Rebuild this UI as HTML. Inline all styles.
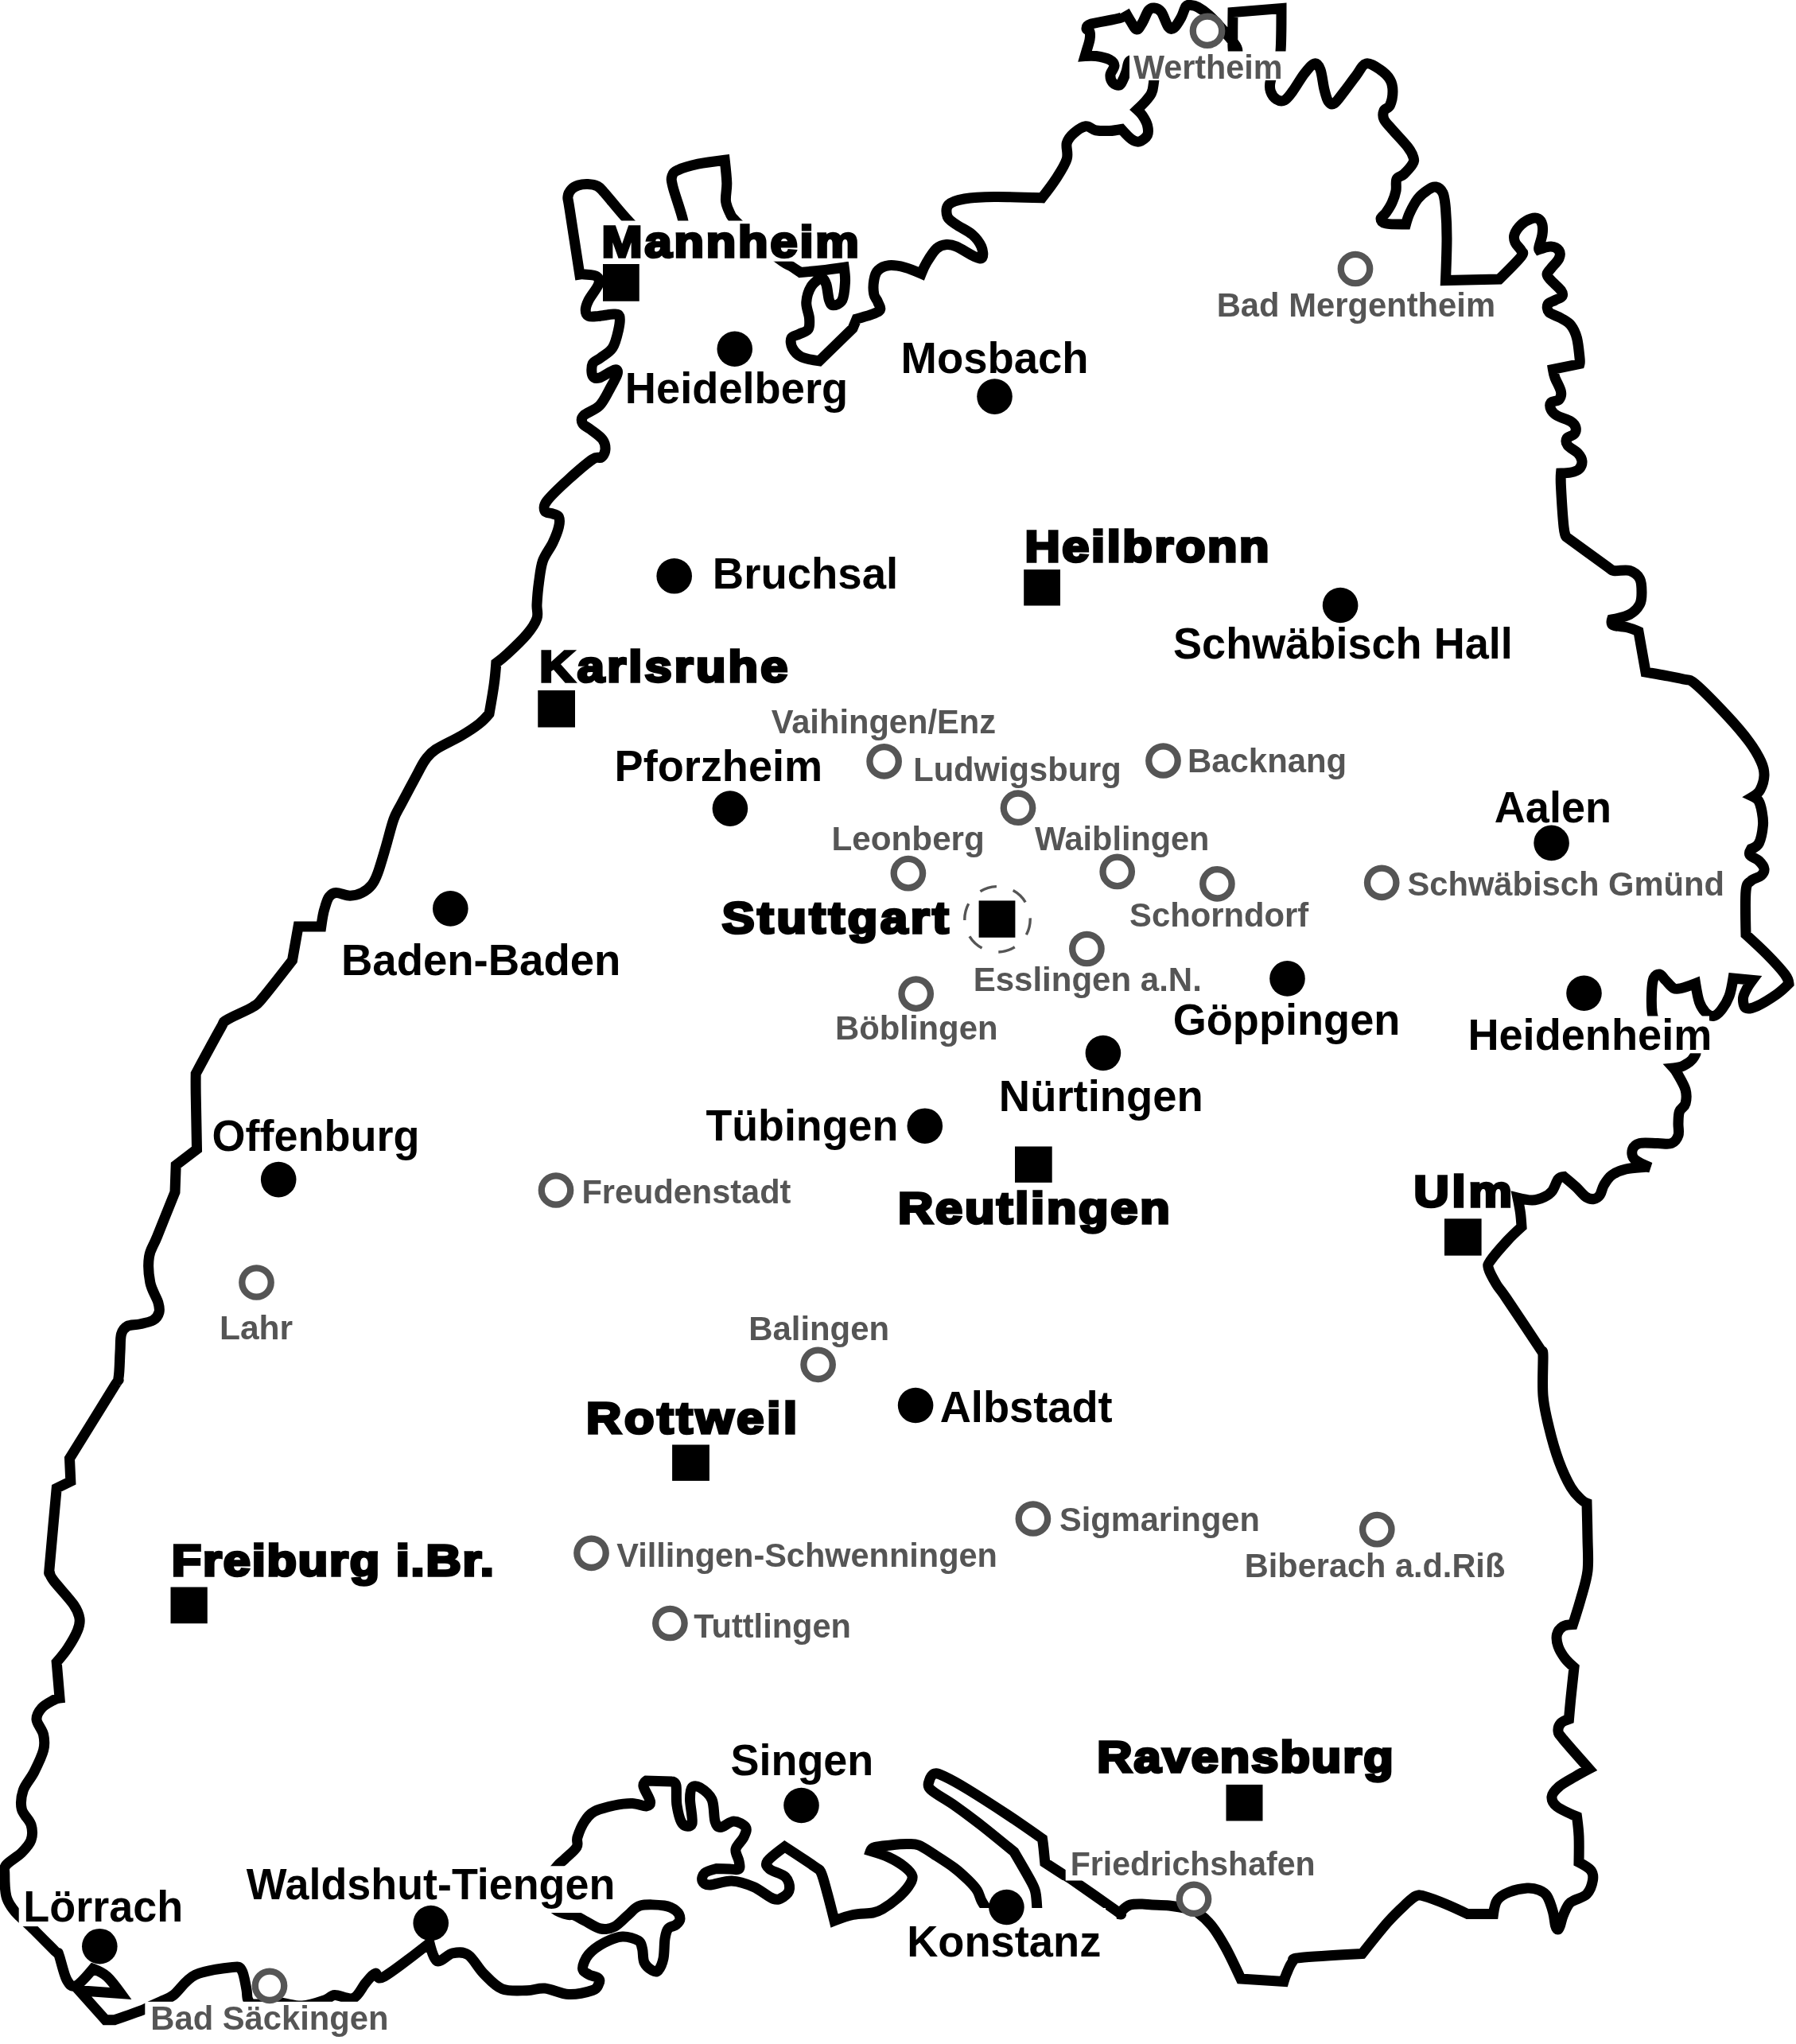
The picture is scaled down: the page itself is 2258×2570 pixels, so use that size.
<!DOCTYPE html>
<html><head><meta charset="utf-8"><title>Baden-Württemberg</title>
<style>
html,body{margin:0;padding:0;background:#fff;}
body{width:2258px;height:2570px;overflow:hidden;}
svg{display:block;will-change:transform;}
text{font-family:"Liberation Sans",sans-serif;font-weight:bold;}
</style></head><body>
<svg width="2258" height="2570" viewBox="0 0 2258 2570">
<rect width="2258" height="2570" fill="#fff"/>
<path d="M1252.0,2407.0 C1252.0,2407.0 1244.0,2402.8 1241.0,2400.0 C1238.0,2397.2 1236.1,2393.8 1234.0,2390.0 C1231.9,2386.2 1231.4,2381.4 1228.6,2377.0 C1225.8,2372.6 1221.8,2368.4 1217.0,2363.7 C1212.2,2359.0 1207.0,2354.0 1200.0,2348.7 C1193.0,2343.4 1182.5,2336.8 1175.0,2332.0 C1167.5,2327.2 1160.8,2322.2 1155.0,2320.0 C1149.2,2317.8 1145.8,2318.6 1140.0,2318.6 C1134.2,2318.6 1126.7,2319.3 1120.0,2320.0 C1113.3,2320.7 1104.3,2321.3 1100.0,2322.5 C1095.7,2323.7 1094.5,2327.2 1094.5,2327.2 C1094.5,2327.2 1109.9,2331.7 1117.0,2335.0 C1124.1,2338.3 1132.0,2343.0 1137.0,2347.0 C1142.0,2351.0 1146.2,2354.8 1147.0,2359.0 C1147.8,2363.2 1145.2,2367.3 1142.0,2372.0 C1138.8,2376.7 1133.3,2382.3 1128.0,2387.0 C1122.7,2391.7 1115.1,2397.0 1110.0,2400.0 C1104.9,2403.0 1103.8,2403.8 1097.5,2405.0 C1091.2,2406.2 1080.6,2405.8 1072.5,2407.5 C1064.4,2409.2 1049.0,2415.0 1049.0,2415.0 C1049.0,2415.0 1042.8,2390.0 1040.0,2380.0 C1037.2,2370.0 1035.0,2360.4 1032.5,2355.0 C1030.0,2349.6 1032.7,2353.0 1025.0,2347.5 C1017.3,2342.0 986.5,2321.9 986.5,2321.9 C986.5,2321.9 968.2,2335.3 965.0,2340.0 C961.8,2344.7 963.8,2346.7 967.5,2350.0 C971.2,2353.3 983.3,2355.8 987.5,2360.0 C991.7,2364.2 992.9,2370.8 992.5,2375.0 C992.1,2379.2 988.3,2382.9 985.0,2385.0 C981.7,2387.1 978.8,2389.6 972.5,2387.5 C966.2,2385.4 956.2,2376.2 947.5,2372.5 C938.8,2368.8 929.2,2365.4 920.0,2365.0 C910.8,2364.6 898.2,2370.0 892.0,2370.0 C885.8,2370.0 884.0,2367.5 883.0,2365.0 C882.0,2362.5 883.1,2357.6 886.0,2355.0 C888.9,2352.4 900.7,2349.5 900.7,2349.5 C900.7,2349.5 912.8,2349.9 917.5,2350.0 C922.2,2350.1 927.1,2351.7 929.0,2350.0 C930.9,2348.3 929.7,2344.2 929.0,2340.0 C928.3,2335.8 924.0,2330.0 925.0,2325.0 C926.0,2320.0 932.9,2314.6 935.0,2310.0 C937.1,2305.4 939.6,2300.8 937.5,2297.5 C935.4,2294.2 927.8,2290.0 922.5,2290.0 C917.2,2290.0 909.9,2297.5 906.0,2297.5 C902.1,2297.5 900.8,2295.8 899.0,2290.0 C897.2,2284.2 898.2,2269.6 895.0,2262.5 C891.8,2255.4 884.2,2250.0 880.0,2247.5 C875.8,2245.0 872.1,2245.0 870.0,2247.5 C867.9,2250.0 867.5,2254.9 867.5,2262.5 C867.5,2270.1 871.6,2287.9 870.0,2293.0 C868.4,2298.1 861.2,2296.8 858.0,2293.0 C854.8,2289.2 852.3,2278.0 851.0,2270.0 C849.7,2262.0 851.0,2250.0 850.0,2245.0 C849.0,2240.0 845.0,2240.0 845.0,2240.0 C845.0,2240.0 812.5,2239.0 812.5,2239.0 C812.5,2239.0 808.2,2241.7 809.0,2246.0 C809.8,2250.3 816.9,2260.8 817.5,2265.0 C818.1,2269.2 816.2,2270.6 812.5,2271.0 C808.8,2271.4 801.7,2267.7 795.0,2267.5 C788.3,2267.3 780.4,2268.3 772.5,2270.0 C764.6,2271.7 753.8,2274.2 747.5,2277.5 C741.2,2280.8 738.6,2284.6 735.0,2290.0 C731.4,2295.4 727.7,2304.6 726.0,2310.0 C724.3,2315.4 727.7,2317.9 725.0,2322.5 C722.3,2327.1 714.2,2333.4 710.0,2337.5 C705.8,2341.6 704.2,2341.6 700.0,2347.0 C695.8,2352.4 685.8,2361.5 685.0,2370.0 C684.2,2378.5 690.5,2391.8 695.0,2398.0 C699.5,2404.2 707.5,2405.3 712.0,2407.0 C716.5,2408.7 718.2,2406.7 722.0,2408.0 C725.8,2409.3 729.5,2412.2 735.0,2415.0 C740.5,2417.8 748.8,2423.8 755.0,2425.0 C761.2,2426.2 766.7,2425.4 772.5,2422.5 C778.3,2419.6 784.6,2411.9 790.0,2407.5 C795.4,2403.1 797.5,2397.9 805.0,2396.0 C812.5,2394.1 827.5,2394.9 835.0,2396.0 C842.5,2397.1 846.7,2399.8 850.0,2402.5 C853.3,2405.2 855.0,2409.6 855.0,2412.5 C855.0,2415.4 852.5,2417.9 850.0,2420.0 C847.5,2422.1 842.3,2422.1 840.0,2425.0 C837.7,2427.9 837.0,2431.2 836.0,2437.5 C835.0,2443.8 835.4,2455.8 834.0,2462.5 C832.6,2469.2 829.8,2475.0 827.5,2477.5 C825.2,2480.0 822.9,2479.2 820.0,2477.5 C817.1,2475.8 812.1,2472.1 810.0,2467.5 C807.9,2462.9 808.8,2454.6 807.5,2450.0 C806.2,2445.4 806.7,2442.5 802.5,2440.0 C798.3,2437.5 789.6,2434.6 782.5,2435.0 C775.4,2435.4 767.1,2438.8 760.0,2442.5 C752.9,2446.2 744.6,2452.1 740.0,2457.5 C735.4,2462.9 732.5,2470.8 732.5,2475.0 C732.5,2479.2 736.7,2480.4 740.0,2482.5 C743.3,2484.6 750.4,2485.4 752.5,2487.5 C754.6,2489.6 753.8,2492.5 752.5,2495.0 C751.2,2497.5 751.2,2500.4 745.0,2502.5 C738.8,2504.6 725.0,2507.9 715.0,2507.5 C705.0,2507.1 693.8,2500.8 685.0,2500.0 C676.2,2499.2 671.5,2502.6 662.5,2502.7 C653.5,2502.8 640.4,2504.3 631.3,2500.7 C622.2,2497.1 615.0,2488.4 607.9,2481.3 C600.8,2474.2 595.0,2462.1 588.5,2457.9 C582.0,2453.7 575.5,2454.6 569.0,2455.9 C562.5,2457.2 554.3,2467.8 549.5,2465.7 C544.7,2463.5 540.0,2443.0 540.0,2443.0 C540.0,2443.0 494.6,2478.7 483.2,2485.1 C471.8,2491.5 475.5,2480.0 471.6,2481.3 C467.7,2482.6 464.4,2487.8 459.9,2493.0 C455.3,2498.2 450.8,2509.8 444.3,2512.4 C437.8,2515.0 426.8,2508.2 420.9,2508.5 C415.0,2508.8 416.0,2512.2 409.2,2514.4 C402.4,2516.7 389.9,2521.4 380.0,2522.0 C370.1,2522.6 360.0,2518.3 350.0,2518.0 C340.0,2517.7 326.4,2520.6 320.0,2520.0 C313.6,2519.4 313.5,2517.6 311.8,2514.4 C310.1,2511.2 311.1,2506.9 309.8,2500.7 C308.5,2494.5 306.9,2481.9 304.0,2477.4 C301.1,2472.9 302.1,2472.5 292.3,2473.5 C282.6,2474.5 257.9,2477.4 245.5,2483.2 C233.2,2489.0 225.3,2503.0 218.2,2508.5 C211.0,2514.0 207.3,2514.1 202.6,2516.3 C197.9,2518.6 193.9,2520.2 190.0,2522.0 C186.1,2523.8 186.9,2524.2 179.3,2527.2 C171.7,2530.1 144.2,2539.7 144.2,2539.7 C144.2,2539.7 132.5,2539.7 132.5,2539.7 C132.5,2539.7 99.4,2502.7 99.4,2502.7 C99.4,2502.7 152.0,2506.6 152.0,2506.6 C152.0,2506.6 140.3,2490.3 134.5,2485.1 C128.7,2479.9 116.9,2475.4 116.9,2475.4 C116.9,2475.4 101.0,2494.5 95.5,2496.8 C90.0,2499.1 87.4,2495.5 83.8,2489.0 C80.2,2482.5 76.3,2463.7 74.0,2457.9 C71.7,2452.1 75.9,2459.8 70.1,2454.0 C64.3,2448.2 46.5,2430.1 39.0,2422.8 C31.5,2415.5 28.9,2413.9 25.0,2410.0 C21.1,2406.1 18.5,2403.8 15.6,2399.4 C12.7,2395.0 9.4,2391.0 7.8,2383.8 C6.2,2376.7 5.8,2363.0 5.8,2356.5 C5.8,2350.0 4.2,2349.4 7.8,2344.9 C11.4,2340.4 22.1,2334.5 27.3,2329.3 C32.5,2324.1 37.0,2319.5 39.0,2313.7 C41.0,2307.8 41.0,2300.7 39.0,2294.2 C37.0,2287.7 28.9,2281.9 27.3,2274.7 C25.7,2267.5 26.6,2258.8 29.2,2251.0 C31.8,2243.2 38.7,2236.4 42.9,2228.0 C47.1,2219.6 52.6,2208.5 54.6,2200.7 C56.6,2192.9 56.0,2187.4 54.6,2181.0 C53.2,2174.6 46.4,2167.6 46.0,2162.0 C45.6,2156.4 48.9,2151.6 52.5,2147.5 C56.1,2143.4 63.8,2139.6 67.5,2137.5 C71.2,2135.4 75.0,2135.0 75.0,2135.0 C75.0,2135.0 71.2,2090.0 71.2,2090.0 C71.2,2090.0 80.6,2079.2 85.0,2072.5 C89.4,2065.8 95.0,2056.2 97.5,2050.0 C100.0,2043.8 100.8,2040.4 100.0,2035.0 C99.2,2029.6 97.9,2025.4 92.5,2017.5 C87.1,2009.6 72.5,1994.2 67.5,1987.5 C62.5,1980.8 63.3,1980.8 62.5,1977.5 C61.7,1974.2 61.0,1985.2 62.5,1967.5 C64.0,1949.8 71.2,1871.2 71.2,1871.2 C71.2,1871.2 88.8,1862.5 88.8,1862.5 C88.8,1862.5 87.5,1833.8 87.5,1833.8 C87.5,1833.8 132.2,1761.9 142.5,1745.0 C152.8,1728.1 147.6,1740.0 149.0,1732.5 C150.4,1725.0 150.4,1709.2 151.0,1700.0 C151.6,1690.8 151.0,1682.9 152.5,1677.5 C154.0,1672.1 156.2,1669.6 160.0,1667.5 C163.8,1665.4 169.6,1666.2 175.0,1665.0 C180.4,1663.8 188.3,1662.5 192.5,1660.0 C196.7,1657.5 199.0,1653.8 200.0,1650.0 C201.0,1646.2 200.6,1643.8 198.8,1637.5 C196.9,1631.2 190.6,1622.1 188.8,1612.5 C186.9,1602.9 186.0,1589.6 187.5,1580.0 C189.0,1570.4 192.1,1568.5 197.5,1555.0 C202.9,1541.5 220.0,1498.8 220.0,1498.8 C220.0,1498.8 221.2,1465.0 221.2,1465.0 C221.2,1465.0 247.5,1445.0 247.5,1445.0 C247.5,1445.0 246.5,1390.8 246.2,1375.0 C246.0,1359.2 246.2,1350.0 246.2,1350.0 C246.2,1350.0 271.0,1303.8 277.5,1292.5 C284.0,1281.2 278.3,1286.9 285.0,1282.5 C291.7,1278.1 310.0,1270.8 317.5,1266.2 C325.0,1261.7 321.7,1264.8 330.0,1255.0 C338.3,1245.2 367.5,1207.5 367.5,1207.5 C367.5,1207.5 375.0,1165.0 375.0,1165.0 C375.0,1165.0 403.8,1165.0 403.8,1165.0 C403.8,1165.0 405.2,1155.2 406.0,1151.0 C406.8,1146.8 407.5,1143.9 408.8,1140.0 C410.0,1136.1 411.5,1130.4 413.8,1127.5 C416.0,1124.6 418.1,1122.7 422.5,1122.5 C426.9,1122.3 434.6,1126.2 440.0,1126.2 C445.4,1126.2 450.4,1124.8 455.0,1122.5 C459.6,1120.2 464.2,1116.7 467.5,1112.5 C470.8,1108.3 472.1,1105.4 475.0,1097.5 C477.9,1089.6 481.7,1076.2 485.0,1065.0 C488.3,1053.8 491.7,1039.2 495.0,1030.0 C498.3,1020.8 500.0,1019.6 505.0,1010.0 C510.0,1000.4 520.0,981.7 525.0,972.5 C530.0,963.3 531.2,960.0 535.0,955.0 C538.8,950.0 540.0,947.5 547.5,942.5 C555.0,937.5 570.8,930.4 580.0,925.0 C589.2,919.6 596.7,914.6 602.5,910.0 C608.3,905.4 615.0,897.5 615.0,897.5 C615.0,897.5 619.8,870.6 621.2,860.0 C622.7,849.4 623.8,833.8 623.8,833.8 C623.8,833.8 631.0,828.5 637.5,822.5 C644.0,816.5 656.2,805.0 662.5,797.5 C668.8,790.0 672.9,783.8 675.0,777.5 C677.1,771.2 674.6,767.5 675.0,760.0 C675.4,752.5 676.2,741.7 677.5,732.5 C678.8,723.3 679.6,713.3 682.5,705.0 C685.4,696.7 691.7,689.6 695.0,682.5 C698.3,675.4 701.2,667.9 702.5,662.5 C703.8,657.1 703.8,652.8 702.5,650.0 C701.2,647.2 697.9,647.2 695.0,646.0 C692.1,644.8 686.2,645.2 685.0,642.5 C683.8,639.8 682.5,636.7 687.5,630.0 C692.5,623.3 705.4,611.2 715.0,602.5 C724.6,593.8 738.2,582.1 745.0,577.5 C751.8,572.9 753.3,577.1 756.0,575.0 C758.7,572.9 760.8,568.8 761.0,565.0 C761.2,561.2 760.6,556.7 757.5,552.5 C754.4,548.3 746.7,543.3 742.5,540.0 C738.3,536.7 734.0,535.4 732.5,532.5 C731.0,529.6 730.2,526.2 733.8,522.5 C737.3,518.8 748.1,515.8 753.8,510.0 C759.4,504.2 763.8,494.2 767.5,487.5 C771.2,480.8 775.4,473.8 776.2,470.0 C777.1,466.2 776.2,464.2 772.5,465.0 C768.8,465.8 758.3,473.8 753.8,475.0 C749.2,476.2 746.5,475.4 745.0,472.5 C743.5,469.6 743.3,461.2 745.0,457.5 C746.7,453.8 750.8,453.3 755.0,450.0 C759.2,446.7 766.2,443.3 770.0,437.5 C773.8,431.7 776.0,421.7 777.5,415.0 C779.0,408.3 779.8,400.8 778.8,397.5 C777.7,394.2 775.6,395.0 771.2,395.0 C766.9,395.0 757.7,397.1 752.5,397.5 C747.3,397.9 742.7,398.8 740.0,397.5 C737.3,396.2 736.2,393.3 736.2,390.0 C736.2,386.7 737.3,382.9 740.0,377.5 C742.7,372.1 750.8,362.5 752.5,357.5 C754.2,352.5 752.9,349.6 750.0,347.5 C747.1,345.4 738.5,345.4 735.0,345.0 C731.5,344.6 728.8,345.0 728.8,345.0 C728.8,345.0 718.5,278.3 716.0,262.0 C713.5,245.7 713.6,251.0 714.0,247.0 C714.4,243.0 716.3,240.3 718.5,238.0 C720.7,235.7 723.6,234.1 727.0,233.0 C730.4,231.9 735.0,231.3 739.0,231.5 C743.0,231.7 747.5,232.2 751.0,234.0 C754.5,235.8 753.5,235.2 760.0,242.5 C766.5,249.8 780.0,267.1 790.0,277.5 C800.0,287.9 808.5,301.2 820.0,305.0 C831.5,308.8 852.3,304.6 858.8,300.0 C865.2,295.4 860.9,288.3 858.8,277.5 C856.6,266.7 848.3,244.4 846.0,235.0 C843.7,225.6 843.9,224.8 845.0,221.2 C846.1,217.7 847.1,216.2 852.5,213.8 C857.9,211.2 867.7,208.3 877.5,206.2 C887.3,204.2 911.2,201.2 911.2,201.2 C911.2,201.2 913.5,221.5 913.8,230.0 C914.0,238.5 911.9,246.2 912.5,252.5 C913.1,258.8 915.4,263.2 917.5,267.5 C919.6,271.8 917.9,270.9 925.0,278.0 C932.1,285.1 950.2,301.5 960.0,310.0 C969.8,318.5 977.9,324.6 983.8,328.8 C989.6,332.9 991.2,332.7 995.0,335.0 C998.8,337.3 1006.2,342.5 1006.2,342.5 C1006.2,342.5 1023.3,341.0 1032.5,340.0 C1041.7,339.0 1061.2,336.2 1061.2,336.2 C1061.2,336.2 1062.9,348.1 1062.5,355.0 C1062.1,361.9 1061.2,372.7 1058.8,377.5 C1056.2,382.3 1050.2,383.8 1047.5,383.8 C1044.8,383.8 1044.0,381.9 1042.5,377.5 C1041.0,373.1 1040.4,362.1 1038.8,357.5 C1037.1,352.9 1035.6,349.6 1032.5,350.0 C1029.4,350.4 1023.1,355.0 1020.0,360.0 C1016.9,365.0 1014.2,373.3 1013.8,380.0 C1013.3,386.7 1017.1,394.4 1017.5,400.0 C1017.9,405.6 1018.3,410.4 1016.2,413.8 C1014.2,417.1 1008.5,418.1 1005.0,420.0 C1001.5,421.9 996.5,422.1 995.0,425.0 C993.5,427.9 994.2,433.5 996.2,437.5 C998.3,441.5 1001.9,446.0 1007.5,448.8 C1013.1,451.5 1030.0,453.8 1030.0,453.8 C1030.0,453.8 1072.0,413.0 1072.0,413.0 C1072.0,413.0 1077.0,401.0 1077.0,401.0 C1077.0,401.0 1100.5,394.8 1105.0,391.2 C1109.5,387.8 1104.8,383.5 1103.8,380.0 C1102.7,376.5 1099.6,374.6 1098.8,370.0 C1097.9,365.4 1097.9,357.5 1098.8,352.5 C1099.6,347.5 1100.6,343.1 1103.8,340.0 C1106.9,336.9 1111.9,334.4 1117.5,333.8 C1123.1,333.1 1130.7,334.5 1137.5,336.2 C1144.3,338.0 1158.3,344.1 1158.3,344.1 C1158.3,344.1 1161.8,335.3 1165.0,330.0 C1168.2,324.7 1173.3,316.2 1177.5,312.5 C1181.7,308.8 1185.8,307.9 1190.0,307.5 C1194.2,307.1 1196.7,307.5 1202.5,310.0 C1208.3,312.5 1219.6,320.2 1225.0,322.5 C1230.4,324.8 1233.5,325.8 1235.0,323.8 C1236.5,321.7 1235.8,314.8 1233.8,310.0 C1231.7,305.2 1227.7,299.6 1222.5,295.0 C1217.3,290.4 1207.7,286.2 1202.5,282.5 C1197.3,278.8 1192.9,276.7 1191.2,272.5 C1189.6,268.3 1189.0,261.2 1192.5,257.5 C1196.0,253.8 1202.9,251.7 1212.5,250.0 C1222.1,248.3 1233.8,247.7 1250.0,247.5 C1266.2,247.3 1310.0,248.8 1310.0,248.8 C1310.0,248.8 1322.3,233.1 1327.5,225.0 C1332.7,216.9 1339.0,207.5 1341.2,200.0 C1343.5,192.5 1339.8,185.4 1341.2,180.0 C1342.7,174.6 1346.0,171.0 1350.0,167.5 C1354.0,164.0 1360.4,159.4 1365.0,158.8 C1369.6,158.1 1372.5,162.8 1377.5,163.8 C1382.5,164.7 1389.6,164.7 1395.0,164.5 C1400.4,164.3 1410.0,162.5 1410.0,162.5 C1410.0,162.5 1418.8,172.4 1422.5,175.0 C1426.2,177.6 1429.2,178.8 1432.5,178.0 C1435.8,177.2 1440.8,173.4 1442.5,170.0 C1444.2,166.6 1443.5,161.7 1442.5,157.5 C1441.5,153.3 1438.4,148.3 1436.2,145.0 C1434.1,141.7 1429.7,137.8 1429.7,137.8 C1429.7,137.8 1437.0,130.9 1440.0,127.5 C1443.0,124.1 1445.8,120.8 1447.5,117.5 C1449.2,114.2 1449.6,111.8 1450.0,107.5 C1450.4,103.2 1452.2,96.6 1450.0,92.0 C1447.8,87.4 1441.8,82.7 1437.0,80.0 C1432.2,77.3 1424.5,74.3 1421.0,76.0 C1417.5,77.7 1417.5,86.0 1416.0,90.0 C1414.5,94.0 1413.4,97.2 1412.0,100.0 C1410.6,102.8 1409.7,106.3 1407.5,107.0 C1405.3,107.7 1400.9,106.2 1399.0,104.0 C1397.1,101.8 1395.7,97.6 1396.0,94.0 C1396.3,90.4 1401.2,85.7 1401.0,82.5 C1400.8,79.3 1398.8,77.0 1395.0,75.0 C1391.2,73.0 1383.1,71.2 1378.0,70.5 C1372.9,69.8 1364.1,70.5 1364.1,70.5 C1364.1,70.5 1365.0,67.4 1366.0,64.0 C1367.0,60.6 1369.3,54.0 1370.0,50.0 C1370.7,46.0 1370.7,42.3 1370.0,40.0 C1369.3,37.7 1365.7,37.7 1366.0,36.0 C1366.3,34.3 1364.7,32.3 1372.0,30.0 C1379.3,27.7 1403.0,24.7 1410.0,22.0 C1417.0,19.3 1414.0,14.0 1414.0,14.0 C1414.0,14.0 1418.5,22.2 1421.0,26.0 C1423.5,29.8 1426.5,36.5 1429.0,37.0 C1431.5,37.5 1433.5,33.0 1436.0,29.0 C1438.5,25.0 1441.5,16.2 1444.0,13.0 C1446.5,9.8 1448.3,9.7 1451.0,10.0 C1453.7,10.3 1457.0,11.0 1460.0,15.0 C1463.0,19.0 1466.3,30.7 1469.0,34.0 C1471.7,37.3 1473.3,37.0 1476.0,35.0 C1478.7,33.0 1482.5,26.5 1485.0,22.0 C1487.5,17.5 1489.0,10.6 1491.0,8.0 C1493.0,5.4 1494.5,6.3 1497.0,6.5 C1499.5,6.7 1502.2,6.9 1506.0,9.0 C1509.8,11.1 1514.8,14.3 1520.0,19.0 C1525.2,23.7 1531.2,30.2 1537.0,37.0 C1542.8,43.8 1552.3,53.7 1555.0,60.0 C1557.7,66.3 1553.8,75.0 1553.0,75.0 C1552.2,75.0 1550.5,69.9 1550.0,60.0 C1549.5,50.1 1550.0,15.5 1550.0,15.5 C1550.0,15.5 1611.0,10.5 1611.0,10.5 C1611.0,10.5 1611.0,52.1 1610.0,64.5 C1609.0,76.9 1607.1,78.9 1605.0,85.0 C1602.9,91.1 1598.8,96.0 1597.5,101.0 C1596.2,106.0 1596.2,111.0 1597.5,115.0 C1598.8,119.0 1602.1,123.2 1605.0,125.0 C1607.9,126.8 1611.7,127.7 1615.0,126.0 C1618.3,124.3 1620.8,120.6 1625.0,115.0 C1629.2,109.4 1635.4,98.3 1640.0,92.5 C1644.6,86.7 1649.2,80.8 1652.5,80.0 C1655.8,79.2 1657.9,82.1 1660.0,87.5 C1662.1,92.9 1663.3,105.8 1665.0,112.5 C1666.7,119.2 1667.9,124.6 1670.0,127.5 C1672.1,130.4 1674.2,132.1 1677.5,130.0 C1680.8,127.9 1685.4,120.8 1690.0,115.0 C1694.6,109.2 1700.4,100.8 1705.0,95.0 C1709.6,89.2 1712.5,81.2 1717.5,80.0 C1722.5,78.8 1730.0,84.2 1735.0,87.5 C1740.0,90.8 1744.8,95.4 1747.5,100.0 C1750.2,104.6 1751.0,109.6 1751.0,115.0 C1751.0,120.4 1749.3,128.5 1747.5,132.5 C1745.7,136.5 1741.2,136.1 1740.0,139.0 C1738.8,141.9 1738.3,146.1 1740.0,150.0 C1741.7,153.9 1745.0,156.7 1750.0,162.5 C1755.0,168.3 1765.5,179.1 1770.0,185.0 C1774.5,190.9 1776.0,194.5 1777.0,198.0 C1778.0,201.5 1778.0,202.5 1776.0,206.0 C1774.0,209.5 1768.3,215.8 1765.0,219.0 C1761.7,222.2 1757.7,221.5 1756.0,225.0 C1754.3,228.5 1756.0,235.0 1755.0,240.0 C1754.0,245.0 1752.1,250.4 1750.0,255.0 C1747.9,259.6 1744.8,264.2 1742.5,267.5 C1740.2,270.8 1736.0,272.8 1736.0,275.0 C1736.0,277.2 1737.2,279.8 1742.5,281.0 C1747.8,282.2 1767.5,282.0 1767.5,282.0 C1767.5,282.0 1770.0,272.8 1772.5,267.5 C1775.0,262.2 1778.8,254.8 1782.5,250.0 C1786.2,245.2 1791.2,241.5 1795.0,239.0 C1798.8,236.5 1801.8,234.4 1805.0,235.0 C1808.2,235.6 1811.9,237.9 1814.0,242.5 C1816.1,247.1 1816.7,252.9 1817.5,262.5 C1818.3,272.1 1819.0,285.0 1819.0,300.0 C1819.0,315.0 1817.5,352.5 1817.5,352.5 C1817.5,352.5 1885.0,351.0 1885.0,351.0 C1885.0,351.0 1907.9,328.5 1912.5,322.5 C1917.1,316.5 1913.8,317.9 1912.5,315.0 C1911.2,312.1 1906.4,308.3 1905.0,305.0 C1903.6,301.7 1902.8,298.8 1904.0,295.0 C1905.2,291.2 1909.0,285.8 1912.5,282.5 C1916.0,279.2 1921.4,276.2 1925.0,275.0 C1928.6,273.8 1931.7,273.8 1934.0,275.0 C1936.3,276.2 1938.2,279.2 1939.0,282.5 C1939.8,285.8 1939.7,290.4 1939.0,295.0 C1938.3,299.6 1935.7,306.9 1935.0,310.0 C1934.3,313.1 1934.7,313.7 1934.7,313.7 C1934.7,313.7 1945.8,309.8 1950.0,310.0 C1954.2,310.2 1958.3,312.5 1960.0,315.0 C1961.7,317.5 1961.7,321.2 1960.0,325.0 C1958.3,328.8 1952.5,334.2 1950.0,337.5 C1947.5,340.8 1945.0,342.5 1945.0,345.0 C1945.0,347.5 1947.1,349.2 1950.0,352.5 C1952.9,355.8 1960.2,361.7 1962.5,365.0 C1964.8,368.3 1965.2,370.4 1964.0,372.5 C1962.8,374.6 1958.0,375.8 1955.0,377.5 C1952.0,379.2 1947.2,380.0 1946.0,382.5 C1944.8,385.0 1944.8,389.6 1947.5,392.5 C1950.2,395.4 1957.9,397.2 1962.5,400.0 C1967.1,402.8 1971.7,404.8 1975.0,409.0 C1978.3,413.2 1980.7,418.2 1982.5,425.0 C1984.3,431.8 1985.4,444.6 1986.0,450.0 C1986.6,455.4 1986.0,457.5 1986.0,457.5 C1986.0,457.5 1952.4,464.3 1952.4,464.3 C1952.4,464.3 1953.3,470.3 1955.0,475.0 C1956.7,479.7 1961.7,487.9 1962.5,492.5 C1963.3,497.1 1962.1,500.2 1960.0,502.5 C1957.9,504.8 1951.7,503.9 1950.0,506.0 C1948.3,508.1 1948.8,512.2 1950.0,515.0 C1951.2,517.8 1953.3,520.0 1957.5,522.5 C1961.7,525.0 1971.1,527.5 1975.0,530.0 C1978.9,532.5 1980.3,534.8 1981.0,537.5 C1981.7,540.2 1980.8,543.8 1979.0,546.0 C1977.2,548.2 1971.3,548.7 1970.0,551.0 C1968.7,553.3 1968.7,556.8 1971.0,560.0 C1973.3,563.2 1981.0,566.7 1984.0,570.0 C1987.0,573.3 1988.8,576.7 1989.0,580.0 C1989.2,583.3 1987.3,587.7 1985.0,590.0 C1982.7,592.3 1978.8,593.2 1975.0,594.0 C1971.2,594.8 1962.5,595.0 1962.5,595.0 C1962.5,595.0 1961.9,601.2 1962.5,612.5 C1963.1,623.8 1964.9,652.1 1966.0,662.5 C1967.1,672.9 1969.0,675.0 1969.0,675.0 C1969.0,675.0 2010.0,704.9 2020.0,712.0 C2030.0,719.1 2024.2,716.6 2029.0,717.5 C2033.8,718.4 2043.6,715.8 2049.0,717.5 C2054.4,719.2 2059.0,722.9 2061.5,727.5 C2064.0,732.1 2064.0,739.6 2064.0,745.0 C2064.0,750.4 2064.0,755.4 2061.5,760.0 C2059.0,764.6 2054.8,769.3 2049.0,772.5 C2043.2,775.7 2026.5,779.0 2026.5,779.0 C2026.5,779.0 2024.7,784.3 2028.0,786.0 C2031.3,787.7 2041.2,787.7 2046.5,789.0 C2051.8,790.3 2060.0,794.0 2060.0,794.0 C2060.0,794.0 2069.0,845.0 2069.0,845.0 C2069.0,845.0 2083.6,847.5 2091.5,849.0 C2099.4,850.5 2109.8,852.2 2116.5,854.0 C2123.2,855.8 2122.3,852.3 2131.5,860.0 C2140.7,867.7 2160.2,887.9 2171.5,900.0 C2182.8,912.1 2191.9,922.9 2199.0,932.5 C2206.1,942.1 2210.8,950.4 2214.0,957.5 C2217.2,964.6 2218.2,969.1 2218.0,975.0 C2217.8,980.9 2215.3,988.6 2213.0,993.0 C2210.7,997.4 2204.0,1001.5 2204.0,1001.5 C2204.0,1001.5 2209.2,1003.9 2211.0,1007.0 C2212.8,1010.1 2214.1,1014.9 2215.0,1020.0 C2215.9,1025.1 2217.1,1030.8 2216.5,1037.5 C2215.9,1044.2 2214.0,1055.0 2211.5,1060.0 C2209.0,1065.0 2201.5,1067.5 2201.5,1067.5 C2201.5,1067.5 2198.3,1072.5 2200.0,1075.0 C2201.7,1077.5 2208.5,1079.6 2211.5,1082.5 C2214.5,1085.4 2217.6,1089.4 2218.0,1092.5 C2218.4,1095.6 2216.8,1098.5 2214.0,1101.0 C2211.2,1103.5 2204.7,1104.3 2201.5,1107.5 C2198.3,1110.7 2196.1,1108.8 2195.0,1120.0 C2193.9,1131.2 2195.0,1175.0 2195.0,1175.0 C2195.0,1175.0 2213.3,1191.7 2221.5,1200.0 C2229.7,1208.3 2239.4,1218.9 2244.0,1225.0 C2248.6,1231.1 2249.0,1236.8 2249.0,1236.8 C2249.0,1236.8 2240.7,1245.3 2234.0,1250.0 C2227.3,1254.7 2215.5,1262.1 2209.0,1265.0 C2202.5,1267.9 2197.9,1269.2 2195.0,1267.5 C2192.1,1265.8 2191.2,1259.2 2191.5,1255.0 C2191.8,1250.8 2194.5,1246.3 2196.5,1242.5 C2198.5,1238.7 2203.2,1232.4 2203.2,1232.4 C2203.2,1232.4 2179.0,1230.0 2179.0,1230.0 C2179.0,1230.0 2176.5,1245.8 2174.0,1252.5 C2171.5,1259.2 2167.3,1265.8 2164.0,1270.0 C2160.7,1274.2 2157.3,1277.1 2154.0,1277.5 C2150.7,1277.9 2146.9,1275.4 2144.0,1272.5 C2141.1,1269.6 2138.6,1266.0 2136.5,1260.0 C2134.4,1254.0 2131.6,1236.5 2131.6,1236.5 C2131.6,1236.5 2118.6,1241.5 2114.0,1242.5 C2109.4,1243.5 2107.3,1244.2 2104.0,1242.5 C2100.7,1240.8 2096.9,1235.4 2094.0,1232.5 C2091.1,1229.6 2089.0,1225.4 2086.5,1225.0 C2084.0,1224.6 2080.7,1225.8 2079.0,1230.0 C2077.3,1234.2 2076.7,1242.0 2076.5,1250.0 C2076.3,1258.0 2075.8,1269.7 2078.0,1278.0 C2080.2,1286.3 2081.5,1293.3 2090.0,1300.0 C2098.5,1306.7 2122.5,1313.0 2129.0,1318.0 C2135.5,1323.0 2131.1,1326.3 2129.0,1330.0 C2126.9,1333.7 2120.6,1337.8 2116.5,1340.0 C2112.4,1342.2 2104.2,1343.0 2104.2,1343.0 C2104.2,1343.0 2106.5,1345.5 2109.0,1350.0 C2111.5,1354.5 2117.3,1363.8 2119.0,1370.0 C2120.7,1376.2 2120.2,1382.9 2119.0,1387.5 C2117.8,1392.1 2113.0,1393.3 2111.5,1397.5 C2110.0,1401.7 2110.2,1407.5 2110.0,1412.5 C2109.8,1417.5 2111.4,1423.3 2110.0,1427.5 C2108.6,1431.7 2105.8,1435.8 2101.5,1437.5 C2097.2,1439.2 2090.7,1437.5 2084.0,1437.5 C2077.3,1437.5 2066.8,1436.2 2061.5,1437.5 C2056.2,1438.8 2053.6,1441.7 2052.5,1445.0 C2051.4,1448.3 2051.3,1453.7 2055.0,1457.5 C2058.7,1461.3 2074.9,1467.9 2074.9,1467.9 C2074.9,1467.9 2071.6,1467.1 2066.5,1467.5 C2061.4,1467.9 2050.7,1468.3 2044.0,1470.0 C2037.3,1471.7 2031.1,1474.2 2026.5,1477.5 C2021.9,1480.8 2019.0,1485.8 2016.5,1490.0 C2014.0,1494.2 2013.6,1499.6 2011.5,1502.5 C2009.4,1505.4 2006.9,1507.1 2004.0,1507.5 C2001.1,1507.9 1997.8,1507.5 1994.0,1505.0 C1990.2,1502.5 1986.1,1496.8 1981.5,1492.5 C1976.9,1488.2 1966.2,1479.4 1966.2,1479.4 C1966.2,1479.4 1961.4,1479.5 1959.0,1482.5 C1956.6,1485.5 1954.4,1493.8 1951.5,1497.5 C1948.6,1501.2 1945.7,1503.1 1941.5,1505.0 C1937.3,1506.9 1932.1,1508.8 1926.5,1509.0 C1920.9,1509.2 1908.0,1506.0 1908.0,1506.0 C1908.0,1506.0 1910.7,1518.9 1911.5,1525.0 C1912.3,1531.1 1913.0,1542.5 1913.0,1542.5 C1913.0,1542.5 1901.5,1552.9 1895.0,1560.0 C1888.5,1567.1 1877.9,1579.2 1874.0,1585.0 C1870.1,1590.8 1870.2,1590.0 1871.5,1595.0 C1872.8,1600.0 1877.8,1608.8 1881.5,1615.0 C1885.2,1621.2 1884.4,1618.3 1894.0,1632.5 C1903.6,1646.7 1939.0,1700.0 1939.0,1700.0 C1939.0,1700.0 1939.8,1695.8 1940.0,1705.0 C1940.2,1714.2 1938.8,1740.0 1940.0,1755.0 C1941.2,1770.0 1944.2,1781.2 1947.5,1795.0 C1950.8,1808.8 1955.4,1825.0 1960.0,1837.5 C1964.6,1850.0 1970.4,1862.1 1975.0,1870.0 C1979.6,1877.9 1984.2,1881.7 1987.5,1885.0 C1990.8,1888.3 1995.0,1890.0 1995.0,1890.0 C1995.0,1890.0 1995.8,1920.8 1996.0,1935.0 C1996.2,1949.2 1997.4,1962.5 1996.0,1975.0 C1994.6,1987.5 1990.6,1998.8 1987.5,2010.0 C1984.4,2021.2 1977.5,2042.5 1977.5,2042.5 C1977.5,2042.5 1968.3,2042.9 1965.0,2045.0 C1961.7,2047.1 1958.5,2050.8 1957.5,2055.0 C1956.5,2059.2 1957.3,2065.0 1959.0,2070.0 C1960.7,2075.0 1964.2,2080.6 1967.5,2085.0 C1970.8,2089.4 1979.0,2096.5 1979.0,2096.5 C1979.0,2096.5 1976.1,2123.2 1975.0,2134.0 C1973.9,2144.8 1972.5,2161.5 1972.5,2161.5 C1972.5,2161.5 1964.8,2164.0 1962.5,2166.5 C1960.2,2169.0 1958.6,2173.2 1959.0,2176.5 C1959.4,2179.8 1958.5,2178.6 1965.0,2186.5 C1971.5,2194.4 1997.9,2224.1 1997.9,2224.1 C1997.9,2224.1 1986.3,2230.3 1980.0,2234.0 C1973.7,2237.7 1964.8,2242.3 1960.0,2246.5 C1955.2,2250.7 1951.4,2254.8 1951.0,2259.0 C1950.6,2263.2 1952.2,2267.3 1957.5,2271.5 C1962.8,2275.7 1982.5,2284.0 1982.5,2284.0 C1982.5,2284.0 1984.6,2299.4 1985.0,2309.0 C1985.4,2318.6 1985.0,2341.5 1985.0,2341.5 C1985.0,2341.5 1997.1,2347.8 2000.0,2351.5 C2002.9,2355.2 2003.3,2359.0 2002.5,2364.0 C2001.7,2369.0 1998.8,2377.3 1995.0,2381.5 C1991.2,2385.7 1983.8,2386.9 1980.0,2389.0 C1976.2,2391.1 1975.0,2390.7 1972.5,2394.0 C1970.0,2397.3 1966.8,2404.5 1965.0,2409.0 C1963.2,2413.5 1962.6,2418.2 1961.5,2421.0 C1960.4,2423.8 1959.5,2426.0 1958.5,2426.0 C1957.5,2426.0 1956.5,2424.7 1955.5,2421.0 C1954.5,2417.3 1954.2,2410.2 1952.5,2404.0 C1950.8,2397.8 1947.9,2388.6 1945.0,2384.0 C1942.1,2379.4 1939.2,2378.2 1935.0,2376.5 C1930.8,2374.8 1926.2,2373.6 1920.0,2374.0 C1913.8,2374.4 1903.8,2376.5 1897.5,2379.0 C1891.2,2381.5 1885.8,2384.4 1882.5,2389.0 C1879.2,2393.6 1877.5,2406.5 1877.5,2406.5 C1877.5,2406.5 1845.0,2406.5 1845.0,2406.5 C1845.0,2406.5 1826.7,2397.8 1817.5,2394.0 C1808.3,2390.2 1796.2,2385.7 1790.0,2384.0 C1783.8,2382.3 1783.8,2382.3 1780.0,2384.0 C1776.2,2385.7 1773.3,2388.6 1767.5,2394.0 C1761.7,2399.4 1754.2,2406.1 1745.0,2416.5 C1735.8,2426.9 1712.5,2456.5 1712.5,2456.5 C1712.5,2456.5 1649.6,2459.8 1635.0,2461.5 C1620.4,2463.2 1627.9,2463.2 1625.0,2466.5 C1622.1,2469.8 1619.3,2477.3 1617.5,2481.5 C1615.7,2485.7 1614.0,2491.5 1614.0,2491.5 C1614.0,2491.5 1560.0,2488.0 1560.0,2488.0 C1560.0,2488.0 1547.1,2460.1 1541.0,2449.0 C1534.9,2437.9 1529.3,2428.8 1523.5,2421.5 C1517.7,2414.2 1511.0,2408.6 1506.0,2405.0 C1501.0,2401.4 1499.5,2401.5 1493.5,2400.0 C1487.5,2398.5 1477.5,2396.8 1470.0,2396.0 C1462.5,2395.2 1454.2,2395.3 1448.5,2395.0 C1442.8,2394.7 1440.6,2394.0 1436.0,2394.0 C1431.4,2394.0 1425.2,2393.7 1421.0,2395.0 C1416.8,2396.3 1412.9,2400.0 1411.0,2402.0 C1409.1,2404.0 1409.6,2407.1 1409.6,2407.1 C1409.6,2407.1 1410.2,2407.2 1400.0,2400.0 C1389.8,2392.8 1359.0,2371.2 1348.5,2364.0 C1338.0,2356.8 1337.0,2357.0 1337.0,2357.0 C1337.0,2357.0 1313.8,2342.0 1313.8,2342.0 C1313.8,2342.0 1312.5,2328.6 1312.0,2323.6 C1311.5,2318.6 1310.5,2312.0 1310.5,2312.0 C1310.5,2312.0 1282.6,2292.3 1267.0,2282.0 C1251.4,2271.7 1230.3,2258.1 1217.0,2250.0 C1203.7,2241.9 1194.0,2236.7 1187.0,2233.4 C1180.0,2230.1 1178.1,2229.2 1175.0,2230.0 C1171.9,2230.8 1169.3,2235.1 1168.5,2238.4 C1167.7,2241.7 1164.8,2244.7 1170.0,2250.0 C1175.2,2255.3 1189.4,2262.5 1200.0,2270.0 C1210.6,2277.5 1221.1,2285.2 1233.6,2295.0 C1246.1,2304.8 1275.0,2328.6 1275.0,2328.6 C1275.0,2328.6 1292.5,2358.4 1297.0,2367.0 C1301.5,2375.6 1300.9,2374.7 1302.0,2380.0 C1303.1,2385.3 1303.5,2394.0 1303.8,2399.0 C1304.1,2404.0 1304.0,2410.0 1304.0,2410.0" fill="none" stroke="#000" stroke-width="13" stroke-linejoin="miter" stroke-miterlimit="10" stroke-linecap="butt"/>
<rect x="753" y="277.5" width="330.0" height="51.2" fill="#fff"/>
<rect x="1420" y="64.5" width="197.0" height="36.5" fill="#fff"/>
<rect x="1844" y="1277.5" width="305.0" height="46.8" fill="#fff"/>
<rect x="23.7" y="2370" width="212.3" height="52.1" fill="#fff"/>
<rect x="182.3" y="2516.8" width="309.7" height="45.2" fill="#fff"/>
<rect x="303" y="2346.25" width="473.0" height="58.8" fill="#fff"/>
<rect x="1339.7" y="2325" width="316.3" height="39.5" fill="#fff"/>
<rect x="1138" y="2399" width="252.0" height="67.0" fill="#fff"/>
<rect x="758" y="332" width="45.75" height="46.75" fill="#000"/>
<rect x="676.25" y="868" width="46.75" height="46.50" fill="#000"/>
<rect x="1287.2" y="716.1" width="45.80" height="45.40" fill="#000"/>
<rect x="1230.6" y="1132.4" width="45.80" height="46.40" fill="#000"/>
<rect x="1276" y="1441.5" width="46.70" height="45.40" fill="#000"/>
<rect x="1816" y="1532.3" width="46.60" height="46.40" fill="#000"/>
<rect x="845.1" y="1816.5" width="46.80" height="45.40" fill="#000"/>
<rect x="214.5" y="1995.5" width="46.25" height="45.75" fill="#000"/>
<rect x="1541.5" y="2243.9" width="46.00" height="45.60" fill="#000"/>
<circle cx="923.75" cy="438.75" r="22.3" fill="#000"/>
<circle cx="1250.5" cy="498.6" r="22.3" fill="#000"/>
<circle cx="847.7" cy="724.3" r="22.3" fill="#000"/>
<circle cx="1685.1" cy="761" r="22.3" fill="#000"/>
<circle cx="917.9" cy="1016.6" r="22.3" fill="#000"/>
<circle cx="1950.6" cy="1059.9" r="22.3" fill="#000"/>
<circle cx="566.3" cy="1142.4" r="22.3" fill="#000"/>
<circle cx="1618.5" cy="1230.4" r="22.3" fill="#000"/>
<circle cx="1991.5" cy="1248.75" r="22.3" fill="#000"/>
<circle cx="1386.9" cy="1324" r="22.3" fill="#000"/>
<circle cx="1162.8" cy="1415.7" r="22.3" fill="#000"/>
<circle cx="350.2" cy="1483.1" r="22.3" fill="#000"/>
<circle cx="1151.1" cy="1767" r="22.3" fill="#000"/>
<circle cx="1007.5" cy="2270" r="22.3" fill="#000"/>
<circle cx="541.7" cy="2418" r="22.3" fill="#000"/>
<circle cx="1265.4" cy="2398" r="22.3" fill="#000"/>
<circle cx="125.3" cy="2447.2" r="22.3" fill="#000"/>
<circle cx="1518" cy="38.75" r="18.2" fill="#fff" stroke="#555" stroke-width="8.3"/>
<circle cx="1704" cy="338" r="18.2" fill="#fff" stroke="#555" stroke-width="8.3"/>
<circle cx="1111.6" cy="957.3" r="18.2" fill="#fff" stroke="#555" stroke-width="8.3"/>
<circle cx="1280" cy="1015.7" r="18.2" fill="#fff" stroke="#555" stroke-width="8.3"/>
<circle cx="1462.5" cy="956.5" r="18.2" fill="#fff" stroke="#555" stroke-width="8.3"/>
<circle cx="1141.9" cy="1098.1" r="18.2" fill="#fff" stroke="#555" stroke-width="8.3"/>
<circle cx="1404.7" cy="1095.9" r="18.2" fill="#fff" stroke="#555" stroke-width="8.3"/>
<circle cx="1530.4" cy="1111.3" r="18.2" fill="#fff" stroke="#555" stroke-width="8.3"/>
<circle cx="1737.2" cy="1109.8" r="18.2" fill="#fff" stroke="#555" stroke-width="8.3"/>
<circle cx="1366.4" cy="1193" r="18.2" fill="#fff" stroke="#555" stroke-width="8.3"/>
<circle cx="1151.7" cy="1249.6" r="18.2" fill="#fff" stroke="#555" stroke-width="8.3"/>
<circle cx="699" cy="1496.5" r="18.2" fill="#fff" stroke="#555" stroke-width="8.3"/>
<circle cx="322.5" cy="1612.5" r="18.2" fill="#fff" stroke="#555" stroke-width="8.3"/>
<circle cx="1028.6" cy="1715.8" r="18.2" fill="#fff" stroke="#555" stroke-width="8.3"/>
<circle cx="1298.9" cy="1909.5" r="18.2" fill="#fff" stroke="#555" stroke-width="8.3"/>
<circle cx="1731.3" cy="1923.1" r="18.2" fill="#fff" stroke="#555" stroke-width="8.3"/>
<circle cx="743.5" cy="1952.8" r="18.2" fill="#fff" stroke="#555" stroke-width="8.3"/>
<circle cx="842.4" cy="2041" r="18.2" fill="#fff" stroke="#555" stroke-width="8.3"/>
<circle cx="1501" cy="2387.75" r="18.2" fill="#fff" stroke="#555" stroke-width="8.3"/>
<circle cx="339" cy="2496.8" r="18.2" fill="#fff" stroke="#555" stroke-width="8.3"/>
<circle cx="1254" cy="1155.8" r="41.2" fill="none" stroke="#555" stroke-width="3.4" stroke-dasharray="21.6 21.55" transform="rotate(-2 1254 1155.8)"/>
<text transform="translate(756.58,322.75) scale(1.1,1)" x="0" y="0" font-size="55.67" fill="#000" style="letter-spacing:2.66px" stroke="#000" stroke-width="3.5" stroke-linejoin="miter" stroke-miterlimit="3" paint-order="stroke">Mannheim</text>
<text transform="translate(678.33,857.25) scale(1.1,1)" x="0" y="0" font-size="55.67" fill="#000" style="letter-spacing:2.98px" stroke="#000" stroke-width="3.5" stroke-linejoin="miter" stroke-miterlimit="3" paint-order="stroke">Karlsruhe</text>
<text transform="translate(1288.43,705.65) scale(1.1,1)" x="0" y="0" font-size="55.67" fill="#000" style="letter-spacing:2.42px" stroke="#000" stroke-width="3.5" stroke-linejoin="miter" stroke-miterlimit="3" paint-order="stroke">Heilbronn</text>
<text transform="translate(907.76,1173.45) scale(1.1,1)" x="0" y="0" font-size="55.67" fill="#000" style="letter-spacing:3.40px" stroke="#000" stroke-width="3.5" stroke-linejoin="miter" stroke-miterlimit="3" paint-order="stroke">Stuttgart</text>
<text transform="translate(1129.03,1537.75) scale(1.1,1)" x="0" y="0" font-size="55.67" fill="#000" style="letter-spacing:2.55px" stroke="#000" stroke-width="3.5" stroke-linejoin="miter" stroke-miterlimit="3" paint-order="stroke">Reutlingen</text>
<text transform="translate(1777.55,1516.75) scale(1.1,1)" x="0" y="0" font-size="55.67" fill="#000" style="letter-spacing:3.47px" stroke="#000" stroke-width="3.5" stroke-linejoin="miter" stroke-miterlimit="3" paint-order="stroke">Ulm</text>
<text transform="translate(736.93,1802.25) scale(1.1,1)" x="0" y="0" font-size="55.67" fill="#000" style="letter-spacing:3.51px" stroke="#000" stroke-width="3.5" stroke-linejoin="miter" stroke-miterlimit="3" paint-order="stroke">Rottweil</text>
<text transform="translate(215.83,1980.75) scale(1.1,1)" x="0" y="0" font-size="55.67" fill="#000" style="letter-spacing:1.68px" stroke="#000" stroke-width="3.5" stroke-linejoin="miter" stroke-miterlimit="3" paint-order="stroke">Freiburg i.Br.</text>
<text transform="translate(1379.13,2227.65) scale(1.1,1)" x="0" y="0" font-size="55.67" fill="#000" style="letter-spacing:1.89px" stroke="#000" stroke-width="3.5" stroke-linejoin="miter" stroke-miterlimit="3" paint-order="stroke">Ravensburg</text>
<text x="785.87" y="507.50" transform="translate(0 -10.15) scale(1 1.02)" font-size="54.5" fill="#000" textLength="280.26" lengthAdjust="spacingAndGlyphs">Heidelberg</text>
<text x="1132.56" y="469.20" transform="translate(0 -9.38) scale(1 1.02)" font-size="54.5" fill="#000" textLength="235.92" lengthAdjust="spacingAndGlyphs">Mosbach</text>
<text x="895.85" y="739.70" transform="translate(0 -14.79) scale(1 1.02)" font-size="54.5" fill="#000" textLength="233.31" lengthAdjust="spacingAndGlyphs">Bruchsal</text>
<text x="1475.04" y="828.20" transform="translate(0 -16.56) scale(1 1.02)" font-size="54.5" fill="#000" textLength="426.79" lengthAdjust="spacingAndGlyphs">Schwäbisch Hall</text>
<text x="772.58" y="981.90" transform="translate(0 -19.64) scale(1 1.02)" font-size="54.5" fill="#000" textLength="261.58" lengthAdjust="spacingAndGlyphs">Pforzheim</text>
<text x="1878.85" y="1034.00" transform="translate(0 -20.68) scale(1 1.02)" font-size="54.5" fill="#000" textLength="147.20" lengthAdjust="spacingAndGlyphs">Aalen</text>
<text x="428.95" y="1226.10" transform="translate(0 -24.52) scale(1 1.02)" font-size="54.5" fill="#000" textLength="351.43" lengthAdjust="spacingAndGlyphs">Baden-Baden</text>
<text x="1474.68" y="1300.80" transform="translate(0 -26.02) scale(1 1.02)" font-size="54.5" fill="#000" textLength="285.68" lengthAdjust="spacingAndGlyphs">Göppingen</text>
<text x="1845.38" y="1320.00" transform="translate(0 -26.40) scale(1 1.02)" font-size="54.5" fill="#000" textLength="306.98" lengthAdjust="spacingAndGlyphs">Heidenheim</text>
<text x="1255.86" y="1396.60" transform="translate(0 -27.93) scale(1 1.02)" font-size="54.5" fill="#000" textLength="256.91" lengthAdjust="spacingAndGlyphs">Nürtingen</text>
<text x="887.40" y="1434.40" transform="translate(0 -28.69) scale(1 1.02)" font-size="54.5" fill="#000" textLength="241.84" lengthAdjust="spacingAndGlyphs">Tübingen</text>
<text x="266.48" y="1447.50" transform="translate(0 -28.95) scale(1 1.02)" font-size="54.5" fill="#000" textLength="261.13" lengthAdjust="spacingAndGlyphs">Offenburg</text>
<text x="1181.65" y="1788.00" transform="translate(0 -35.76) scale(1 1.02)" font-size="54.5" fill="#000" textLength="217.01" lengthAdjust="spacingAndGlyphs">Albstadt</text>
<text x="918.45" y="2232.50" transform="translate(0 -44.65) scale(1 1.02)" font-size="54.5" fill="#000" textLength="179.90" lengthAdjust="spacingAndGlyphs">Singen</text>
<text x="309.75" y="2387.70" transform="translate(0 -47.75) scale(1 1.02)" font-size="54.5" fill="#000" textLength="463.57" lengthAdjust="spacingAndGlyphs">Waldshut-Tiengen</text>
<text x="1140.17" y="2459.70" transform="translate(0 -49.19) scale(1 1.02)" font-size="54.5" fill="#000" textLength="244.09" lengthAdjust="spacingAndGlyphs">Konstanz</text>
<text x="29.29" y="2415.70" transform="translate(0 -48.31) scale(1 1.02)" font-size="54.5" fill="#000" textLength="200.96" lengthAdjust="spacingAndGlyphs">Lörrach</text>
<text x="1424.96" y="98.60" transform="translate(0 -1.97) scale(1 1.02)" font-size="41.0" fill="#555" textLength="187.59" lengthAdjust="spacingAndGlyphs">Wertheim</text>
<text x="1529.71" y="398.50" transform="translate(0 -7.97) scale(1 1.02)" font-size="41.0" fill="#555" textLength="350.38" lengthAdjust="spacingAndGlyphs">Bad Mergentheim</text>
<text x="969.72" y="922.40" transform="translate(0 -18.45) scale(1 1.02)" font-size="41.0" fill="#555" textLength="282.38" lengthAdjust="spacingAndGlyphs">Vaihingen/Enz</text>
<text x="1148.21" y="982.00" transform="translate(0 -19.64) scale(1 1.02)" font-size="41.0" fill="#555" textLength="261.58" lengthAdjust="spacingAndGlyphs">Ludwigsburg</text>
<text x="1493.00" y="970.80" transform="translate(0 -19.42) scale(1 1.02)" font-size="41.0" fill="#555" textLength="200.20" lengthAdjust="spacingAndGlyphs">Backnang</text>
<text x="1045.58" y="1069.20" transform="translate(0 -21.38) scale(1 1.02)" font-size="41.0" fill="#555" textLength="192.25" lengthAdjust="spacingAndGlyphs">Leonberg</text>
<text x="1300.96" y="1069.20" transform="translate(0 -21.38) scale(1 1.02)" font-size="41.0" fill="#555" textLength="219.49" lengthAdjust="spacingAndGlyphs">Waiblingen</text>
<text x="1420.10" y="1165.20" transform="translate(0 -23.30) scale(1 1.02)" font-size="41.0" fill="#555" textLength="225.02" lengthAdjust="spacingAndGlyphs">Schorndorf</text>
<text x="1769.40" y="1126.20" transform="translate(0 -22.52) scale(1 1.02)" font-size="41.0" fill="#555" textLength="398.65" lengthAdjust="spacingAndGlyphs">Schwäbisch Gmünd</text>
<text x="1223.69" y="1246.50" transform="translate(0 -24.93) scale(1 1.02)" font-size="41.0" fill="#555" textLength="287.20" lengthAdjust="spacingAndGlyphs">Esslingen a.N.</text>
<text x="1050.00" y="1307.50" transform="translate(0 -26.15) scale(1 1.02)" font-size="41.0" fill="#555" textLength="204.49" lengthAdjust="spacingAndGlyphs">Böblingen</text>
<text x="731.42" y="1513.00" transform="translate(0 -30.26) scale(1 1.02)" font-size="41.0" fill="#555" textLength="262.98" lengthAdjust="spacingAndGlyphs">Freudenstadt</text>
<text x="275.90" y="1683.75" transform="translate(0 -33.68) scale(1 1.02)" font-size="41.0" fill="#555" textLength="92.24" lengthAdjust="spacingAndGlyphs">Lahr</text>
<text x="941.20" y="1684.60" transform="translate(0 -33.69) scale(1 1.02)" font-size="41.0" fill="#555" textLength="176.90" lengthAdjust="spacingAndGlyphs">Balingen</text>
<text x="1332.10" y="1925.10" transform="translate(0 -38.50) scale(1 1.02)" font-size="41.0" fill="#555" textLength="251.78" lengthAdjust="spacingAndGlyphs">Sigmaringen</text>
<text x="1564.82" y="1983.50" transform="translate(0 -39.67) scale(1 1.02)" font-size="41.0" fill="#555" textLength="327.45" lengthAdjust="spacingAndGlyphs">Biberach a.d.Riß</text>
<text x="775.32" y="1969.70" transform="translate(0 -39.39) scale(1 1.02)" font-size="41.0" fill="#555" textLength="478.55" lengthAdjust="spacingAndGlyphs">Villingen-Schwenningen</text>
<text x="872.24" y="2058.80" transform="translate(0 -41.18) scale(1 1.02)" font-size="41.0" fill="#555" textLength="197.70" lengthAdjust="spacingAndGlyphs">Tuttlingen</text>
<text x="1345.76" y="2357.75" transform="translate(0 -47.16) scale(1 1.02)" font-size="41.0" fill="#555" textLength="307.79" lengthAdjust="spacingAndGlyphs">Friedrichshafen</text>
<text x="189.31" y="2552.10" transform="translate(0 -51.04) scale(1 1.02)" font-size="41.0" fill="#555" textLength="299.08" lengthAdjust="spacingAndGlyphs">Bad Säckingen</text>
</svg>
</body></html>
